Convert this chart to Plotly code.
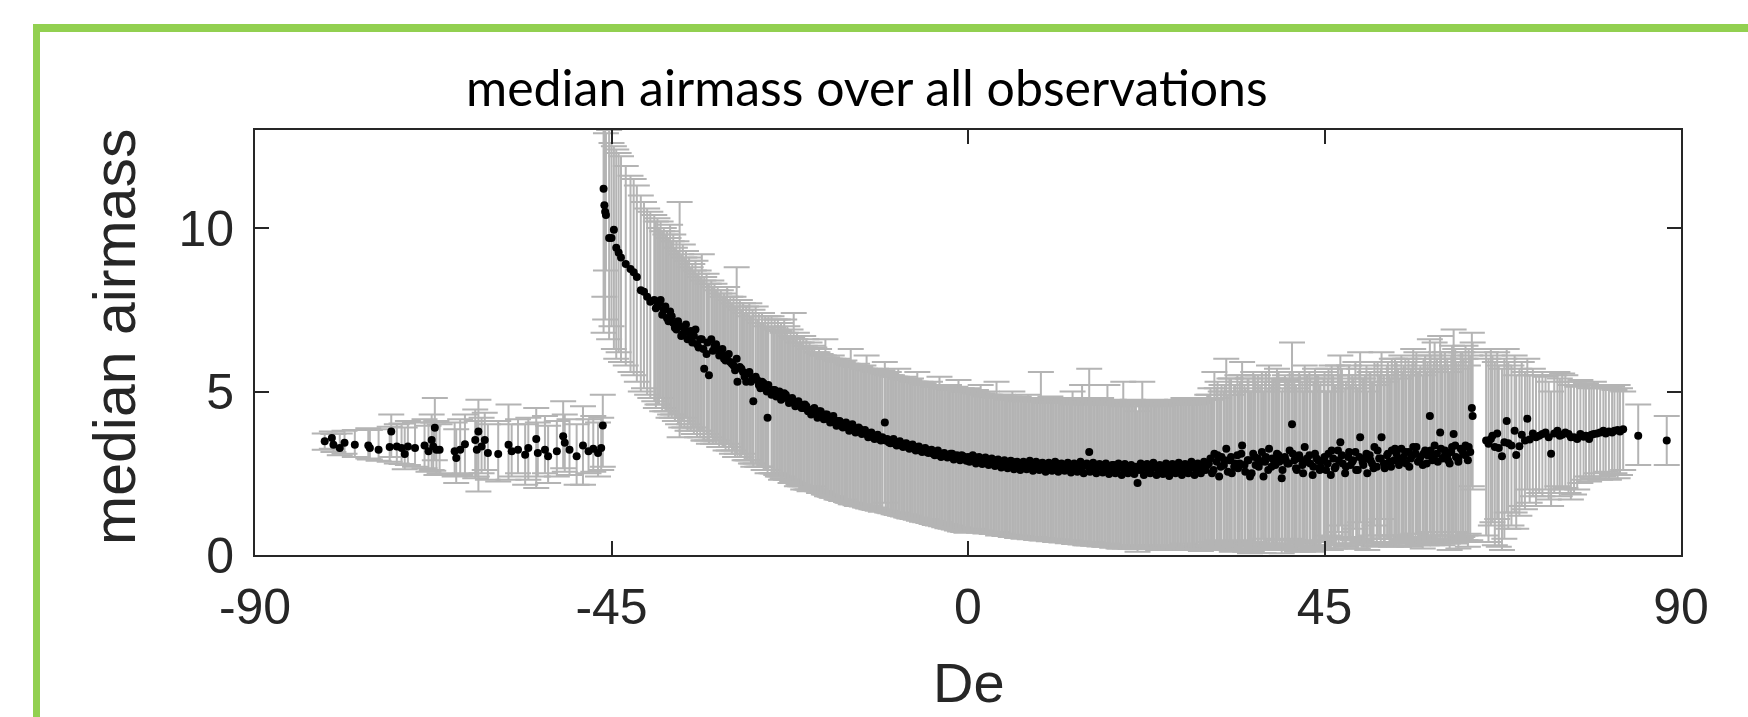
import plotly.graph_objects as go

# ---------------- data ----------------
# southern group (De < -45)
de_s = [-81.2,-80.3,-80.1,-79.3,-78.7,-77.4,-75.7,-75.5,-74.4,-73.0,
        -72.8,-72.1,-71.5,-71.1,-70.7,-69.8,-68.6,-68.1,-67.7,-67.5,
        -67.3,-67.1,-66.7,-64.8,-64.6,-64.1,-63.5,-62.2,-61.8,-62.0,
        -61.4,-61.0,-60.6,-59.3,-58.0,-57.6,-56.8,-55.9,-55.5,-54.5,
        -54.3,-53.4,-53.0,-51.9,-51.1,-50.9,-50.3,-49.4,-48.6,-47.9,
        -47.3,-46.7,-46.3,-46.1]
med_s = [3.48,3.58,3.37,3.27,3.43,3.37,3.35,3.27,3.22,3.30,
         3.78,3.32,3.27,3.09,3.32,3.27,3.35,3.17,3.52,3.32,
         3.89,3.22,3.22,3.17,2.97,3.22,3.39,3.52,3.78,3.22,
         3.32,3.52,3.12,3.09,3.37,3.17,3.22,3.07,3.27,3.55,
         3.12,3.22,3.02,3.17,3.63,3.43,3.22,3.02,3.35,3.17,
         3.25,3.12,3.27,3.96]
hi_s = [3.72,3.78,3.70,3.72,3.80,3.82,3.88,3.82,3.85,3.92,
        4.30,4.00,4.02,3.90,4.10,4.05,4.15,3.95,4.30,4.05,
        4.80,4.10,4.00,4.05,3.85,4.15,4.30,4.45,4.75,4.10,
        4.20,4.35,4.00,4.10,4.60,4.00,4.15,4.00,4.20,4.50,
        4.05,4.25,3.95,4.10,4.70,4.30,4.15,4.00,4.55,4.15,
        4.25,4.05,4.20,4.90]
lo_s = [3.22,3.25,3.15,3.05,3.10,3.00,2.95,2.92,2.88,2.85,
        3.00,2.80,2.78,2.62,2.75,2.70,2.65,2.55,2.60,2.58,
        2.90,2.45,2.50,2.40,2.20,2.45,2.50,2.35,1.94,2.40,
        2.50,2.60,2.30,2.25,2.30,2.40,2.50,2.15,2.30,2.05,
        2.40,2.50,2.20,2.40,2.65,2.55,2.45,2.15,2.15,2.50,
        2.55,2.40,2.60,2.70]

# steep rise near De = -45
de_a = [-46.0,-45.9,-45.8,-45.7,-45.3,-45.0,-44.7,-44.4,-44.1,-43.8,-43.2,-42.6,-42.2,-41.8,-41.3,-40.9,-40.5,-40.1]
med_a = [11.2,10.7,10.5,10.4,9.7,9.7,9.95,9.4,9.25,9.1,8.9,8.75,8.65,8.5,8.1,8.05,7.9,7.75]
hi_a = [13.5,13.4,13.2,12.9,13.0,12.6,12.5,12.4,12.3,12.2,11.9,11.6,11.5,11.3,11.0,10.8,10.6,10.5]
lo_a = [6.8,7.9,7.2,8.7,6.6,7.0,6.3,6.0,6.2,5.9,5.8,5.6,5.5,5.3,5.0,5.1,4.9,4.8]

de_b = [-39.6,-39.2,-38.8,-38.4,-38.0,-37.6,-37.2,-36.8,-36.4,-36.0,-35.6,-35.2,-34.8,
        -34.4,-34.0,-33.6,-33.3,-33.0,-32.7,-32.4,-32.0,-31.6,-31.2,-30.8,-30.4,-30.0]
med_b = [7.8,7.6,7.8,7.5,7.25,7.45,7.1,6.9,7.0,6.75,7.05,6.8,6.5,
         6.9,6.35,6.6,5.7,6.15,5.5,6.6,6.4,6.3,6.2,6.0,6.1,5.9]
hi_b = [10.4,10.3,10.2,10.0,9.9,10.1,9.8,9.6,10.8,9.5,9.3,9.1,8.9,
        9.0,8.7,9.2,8.5,8.6,8.3,8.4,8.3,8.2,8.1,8.0,8.2,7.9]
lo_b = [4.7,4.6,4.8,4.5,4.4,4.3,4.3,4.2,3.6,4.1,4.2,4.0,3.9,
        3.9,3.8,3.8,3.5,3.7,3.4,3.6,3.5,3.5,3.4,3.3,3.4,3.3]

de_c = [-29.6,-29.2,-29.1,-28.8,-28.4,-28.0,-27.6,-27.2,-27.1,-26.8,-26.4,-26.0,-25.6,-25.3,
        -25.2,-24.8,-24.4,-24.0,-23.6,-23.2,-22.8,-22.4,-22.0,-21.6,-21.2,-20.8,-20.4,-20.0]
med_c = [5.8,6.0,5.3,5.75,5.6,5.3,5.6,5.4,4.7,5.45,5.2,5.3,5.1,4.2,
         5.2,4.9,5.05,4.9,4.75,4.95,4.8,4.75,4.7,4.65,4.6,4.5,4.55,4.4]
hi_c = [7.9,8.8,7.6,7.8,7.7,7.6,7.7,7.5,7.4,7.6,7.4,7.4,7.3,7.1,
        7.3,7.3,7.2,7.2,7.1,7.2,7.0,6.9,7.4,6.8,6.7,6.7,6.6,6.5]
lo_c = [3.2,3.1,3.0,3.0,3.1,2.9,2.9,2.8,2.7,2.8,2.7,2.7,2.6,2.5,
        2.6,2.5,2.5,2.4,2.3,2.4,2.3,2.2,2.2,2.1,2.1,2.0,2.0,1.95]

# second pass of stars in the falling part (-40 .. -20)
de_c2 = [-39.4,-39.0,-38.6,-38.2,-37.8,-37.4,-37.0,-36.6,-36.2,-35.8,-35.4,-35.0,-34.6,-34.2,-33.8,
         -33.4,-32.9,-32.2,-31.8,-31.4,-31.0,-30.6,-30.2,-29.8,-29.4,-28.6,-28.2,-27.8,-27.4,-26.6,
         -26.2,-25.8,-25.4,-24.6,-24.2,-23.8,-23.4,-23.0,-22.6,-22.2,-21.8,-21.4,-21.0,-20.6,-20.2]
med_c2 = [7.55,7.7,7.35,7.6,7.15,7.3,6.95,7.15,6.7,6.9,6.6,6.85,6.7,6.45,6.6,
          6.3,6.5,6.25,6.45,6.1,6.3,5.95,6.15,5.85,5.65,5.7,5.45,5.55,5.3,5.35,
          5.1,5.25,5.0,5.05,4.85,5.0,4.8,4.9,4.65,4.8,4.55,4.7,4.5,4.6,4.4]
hi_c2 = [10.2,10.0,9.9,9.8,9.7,9.6,9.4,9.3,9.2,9.1,9.0,8.8,8.7,8.6,8.5,
         8.4,8.3,8.2,8.1,8.0,7.9,7.9,7.8,7.7,7.6,7.5,7.4,7.4,7.3,7.2,
         7.1,7.1,7.0,6.95,6.9,6.85,6.8,6.8,6.7,6.65,6.6,6.5,6.5,6.4,6.3]
lo_c2 = [4.5,4.6,4.4,4.4,4.2,4.2,4.1,4.0,3.9,3.9,3.8,3.8,3.7,3.6,3.6,
         3.5,3.5,3.4,3.4,3.3,3.3,3.2,3.2,3.1,3.0,3.0,2.9,2.9,2.8,2.7,
         2.7,2.6,2.6,2.5,2.45,2.4,2.35,2.3,2.3,2.25,2.2,2.15,2.1,2.1,2.0]

de_d = [-19.6,-19.2,-18.8,-18.4,-18.0,-17.6,-17.2,-16.8,-16.4,-16.0,-15.6,-15.2,-14.8,
        -14.4,-14.0,-13.6,-13.2,-12.8,-12.4,-12.0,-11.6,-11.2,-10.8,-10.5,-10.4,-10.0]
med_d = [4.45,4.35,4.4,4.25,4.3,4.15,4.2,4.05,4.1,3.95,4.0,3.9,3.95,
         3.85,3.8,3.85,3.75,3.7,3.7,3.6,3.65,3.55,3.6,4.05,3.5,3.45]
hi_d = [6.4,6.2,6.3,6.1,6.6,6.0,6.1,5.95,6.0,5.9,5.95,5.85,6.3,
        5.8,5.85,5.75,5.8,6.1,5.7,5.65,5.7,5.6,5.65,5.9,5.55,5.6]
lo_d = [2.1,2.0,1.9,1.95,1.85,1.8,1.75,1.8,1.7,1.65,1.7,1.6,1.55,
        1.6,1.5,1.55,1.5,1.45,1.5,1.4,1.45,1.4,1.35,1.6,1.35,1.3]

de_e = [-9.6,-9.2,-8.8,-8.4,-8.0,-7.6,-7.2,-6.8,-6.4,-6.0,-5.6,-5.2,
        -4.8,-4.4,-4.0,-3.6,-3.2,-2.8,-2.4,-2.0,-1.6,-1.2,-0.8,-0.4]
med_e = [3.5,3.4,3.45,3.35,3.4,3.3,3.35,3.25,3.3,3.2,3.25,3.15,
         3.2,3.1,3.15,3.05,3.1,3.05,3.0,3.1,3.0,2.95,3.05,2.95]
hi_e = [5.5,5.45,5.7,5.4,5.45,5.35,5.4,5.3,5.6,5.3,5.25,5.2,
        5.3,5.15,5.2,5.45,5.15,5.1,5.2,5.1,5.15,5.35,5.1,5.05]
lo_e = [1.3,1.25,1.3,1.2,1.25,1.15,1.2,1.1,1.15,1.1,1.05,1.1,
        1.0,1.05,0.95,1.0,0.9,0.95,0.85,0.9,0.8,0.85,0.8,0.75]

# second pass of stars (-20 .. 0)
de_e2 = [-19.8,-19.4,-19.0,-18.6,-18.2,-17.8,-17.4,-17.0,-16.6,-16.2,-15.8,-15.4,-15.0,-14.6,-14.2,
         -13.8,-13.4,-13.0,-12.6,-12.2,-11.8,-11.4,-11.0,-10.2,-9.8,-9.4,-9.0,-8.6,-8.2,-7.8,
         -7.4,-7.0,-6.6,-6.2,-5.8,-5.4,-5.0,-4.6,-4.2,-3.8,-3.4,-3.0,-2.6,-2.2,-1.8,-1.4,-1.0,-0.6,-0.2]
med_e2 = [4.3,4.5,4.2,4.4,4.15,4.3,4.05,4.25,3.95,4.1,3.9,4.05,3.8,4.0,3.75,
          3.9,3.7,3.82,3.6,3.75,3.55,3.68,3.5,3.55,3.42,3.55,3.35,3.48,3.3,3.42,
          3.25,3.38,3.2,3.32,3.15,3.27,3.12,3.22,3.05,3.2,3.0,3.12,2.98,3.1,2.92,3.05,2.9,3.02,2.88]
hi_e2 = [6.3,6.35,6.2,6.15,6.1,6.05,6.0,6.0,5.95,5.9,5.9,5.85,5.8,5.8,5.75,
         5.75,5.7,5.7,5.65,5.65,5.6,5.6,5.55,5.5,5.5,5.45,5.45,5.4,5.4,5.35,
         5.35,5.3,5.3,5.25,5.25,5.2,5.2,5.2,5.15,5.15,5.1,5.1,5.1,5.05,5.05,5.05,5.0,5.0,5.0]
lo_e2 = [2.05,2.0,1.95,1.9,1.85,1.8,1.78,1.75,1.7,1.68,1.65,1.62,1.6,1.55,1.52,
         1.5,1.48,1.45,1.42,1.4,1.38,1.35,1.32,1.3,1.28,1.25,1.22,1.2,1.18,1.15,
         1.12,1.1,1.08,1.05,1.02,1.0,0.98,0.95,0.92,0.9,0.88,0.85,0.82,0.8,0.78,0.75,0.72,0.7,0.68]

de_f = [0.0,0.4,0.8,1.2,1.6,2.0,2.4,2.8,3.2,3.6,4.0,4.4,4.8,5.2,5.6,6.0,6.4,6.8,7.2,7.6,
        8.0,8.4,8.8,9.2,9.6,10.0,10.4,10.8,11.2,11.6,12.0,12.4,12.8,13.2,13.6,14.0,14.4,14.8]
med_f = [3.0,2.95,3.0,2.9,2.95,2.85,2.9,2.85,2.8,2.9,2.8,2.85,2.75,2.8,2.85,2.75,2.8,2.7,2.8,2.75,
         2.7,2.75,2.7,2.8,2.7,2.65,2.75,2.7,2.8,2.65,2.7,2.75,2.65,2.7,2.75,2.65,2.7,2.75]
hi_f = [5.1,5.0,5.05,4.95,5.2,4.9,5.0,4.9,4.85,5.3,4.85,4.9,4.8,4.85,5.0,4.8,4.85,4.75,4.8,4.9,
        4.75,4.8,4.75,5.6,4.8,4.75,4.85,4.7,4.8,4.75,4.7,4.8,4.75,5.0,4.8,4.7,5.2,4.75]
lo_f = [0.8,0.75,0.8,0.7,0.75,0.7,0.72,0.68,0.65,0.7,0.62,0.65,0.6,0.62,0.58,0.6,0.55,0.58,0.52,0.55,
        0.5,0.55,0.5,0.45,0.52,0.48,0.5,0.45,0.48,0.42,0.45,0.4,0.45,0.38,0.42,0.35,0.4,0.3]

de_g = [15.2,15.3,15.6,16.0,16.4,16.8,17.2,17.6,18.0,18.4,18.8,19.2,19.6,20.0,20.4,20.8,21.2,21.4,21.6,22.0,
        22.4,22.8,23.2,23.6,24.0,24.4,24.8,25.2,25.6,26.0,26.4,26.8,27.2,27.6,28.0,28.4,28.8,29.2,29.6]
med_g = [2.7,3.15,2.75,2.65,2.7,2.75,2.6,2.7,2.65,2.75,2.6,2.7,2.65,2.7,2.6,2.65,2.7,2.2,2.6,2.65,
         2.7,2.6,2.65,2.7,2.6,2.65,2.55,2.7,2.6,2.65,2.7,2.6,2.75,2.6,2.65,2.7,2.6,2.65,2.7]
hi_g = [4.7,5.7,4.8,4.7,4.75,4.8,4.65,5.2,4.7,4.75,4.65,4.7,5.3,4.7,4.65,4.75,4.7,4.4,4.65,5.3,
        4.7,4.65,4.7,4.75,4.6,4.65,4.6,4.7,4.65,4.6,4.75,4.65,4.8,4.6,4.7,4.75,4.65,4.7,4.8]
lo_g = [0.35,0.3,0.4,0.3,0.35,0.3,0.25,0.35,0.3,0.25,0.3,0.2,0.25,0.3,0.2,0.25,0.3,0.1,0.25,0.2,
        0.3,0.25,0.2,0.3,0.15,0.25,0.2,0.3,0.25,0.2,0.3,0.25,0.35,0.2,0.3,0.25,0.2,0.3,0.25]

# second pass of stars (0 .. 30)
de_g2 = [0.2,0.6,1.0,1.4,1.8,2.2,2.6,3.0,3.4,3.8,4.2,4.6,5.0,5.4,5.8,6.2,6.6,7.0,7.4,7.8,
         8.2,8.6,9.0,9.4,9.8,10.2,10.6,11.0,11.4,11.8,12.2,12.6,13.0,13.4,13.8,14.2,14.6,15.0,15.4,15.8,
         16.2,16.6,17.0,17.4,17.8,18.2,18.6,19.0,19.4,19.8,20.2,20.6,21.0,21.8,22.2,22.6,23.0,23.4,23.8,24.2,
         24.6,25.0,25.4,25.8,26.2,26.6,27.0,27.4,27.8,28.2,28.6,29.0,29.4,29.8]
med_g2 = [2.85,3.05,2.8,3.0,2.78,2.98,2.75,2.95,2.72,2.92,2.68,2.9,2.65,2.88,2.62,2.85,2.6,2.85,2.62,2.88,
          2.58,2.85,2.6,2.82,2.55,2.82,2.58,2.85,2.55,2.8,2.58,2.82,2.52,2.8,2.55,2.85,2.5,2.8,2.55,2.82,
          2.5,2.78,2.52,2.8,2.48,2.75,2.5,2.8,2.45,2.78,2.5,2.75,2.48,2.8,2.45,2.78,2.5,2.82,2.45,2.75,
          2.48,2.8,2.42,2.78,2.5,2.82,2.45,2.78,2.5,2.85,2.45,2.8,2.5,2.85]
hi_g2 = [5.0,4.95,5.05,4.9,4.95,4.85,4.9,4.85,4.8,4.9,4.8,4.85,4.75,4.8,4.75,4.8,4.7,4.75,4.7,4.8,
         4.7,4.75,4.7,4.75,4.65,4.7,4.65,4.75,4.65,4.7,4.65,4.7,4.6,4.7,4.65,4.7,4.6,4.75,4.65,4.7,
         4.6,4.65,4.6,4.7,4.6,4.65,4.6,4.7,4.55,4.65,4.6,4.65,4.55,4.7,4.6,4.65,4.55,4.7,4.6,4.65,
         4.55,4.7,4.6,4.65,4.6,4.7,4.6,4.65,4.6,4.75,4.6,4.7,4.65,4.75]
lo_g2 = [0.78,0.72,0.78,0.68,0.72,0.66,0.7,0.64,0.66,0.6,0.62,0.58,0.6,0.55,0.58,0.52,0.55,0.5,0.52,0.48,
         0.5,0.46,0.48,0.44,0.46,0.42,0.45,0.4,0.42,0.38,0.4,0.36,0.38,0.34,0.36,0.32,0.34,0.3,0.32,0.28,
         0.3,0.26,0.28,0.25,0.28,0.22,0.26,0.2,0.25,0.2,0.22,0.18,0.22,0.2,0.25,0.18,0.22,0.2,0.18,0.22,
         0.2,0.18,0.22,0.15,0.2,0.18,0.22,0.15,0.2,0.18,0.15,0.2,0.12,0.18]

de_h = [30.0,30.4,30.8,31.1,31.4,31.7,32.0,32.3,32.6,33.0,33.3,33.6,34.0,34.3,34.6,35.0,35.3,35.6,36.0,36.3,
        36.6,37.0,37.3,37.6,38.0,38.3,38.6,39.0,39.3,39.6,40.0,40.3,40.6,40.9,41.2,41.5,41.8,42.2,42.5,42.8,
        43.2,43.5,43.8,44.2,44.5]
med_h = [2.6,2.8,2.5,3.1,2.85,2.4,3.0,2.75,3.25,2.9,2.5,2.7,3.05,2.8,3.35,2.55,2.9,2.4,3.1,2.75,
         2.95,2.85,2.4,3.0,3.25,2.7,2.9,3.1,2.85,2.35,3.0,2.8,3.2,4.0,2.9,2.6,3.05,2.75,3.3,2.95,
         2.8,2.45,3.1,2.9,2.7]
hi_h = [4.8,4.9,4.75,5.6,5.1,4.8,5.2,5.0,6.0,5.4,4.9,5.2,5.5,5.3,5.9,5.1,5.4,5.0,5.6,5.3,
        5.5,5.2,5.0,5.6,5.8,5.2,5.4,5.7,5.3,5.0,5.5,5.35,5.6,6.5,5.4,5.1,5.6,5.3,5.8,5.5,
        5.4,5.0,5.7,5.5,5.3]
lo_h = [0.25,0.3,0.2,0.35,0.25,0.15,0.3,0.2,0.4,0.25,0.1,0.2,0.3,0.15,0.4,0.1,0.2,0.05,0.3,0.15,
        0.25,0.2,0.06,0.25,0.35,0.15,0.2,0.3,0.2,0.05,0.25,0.15,0.3,0.5,0.2,0.1,0.25,0.15,0.35,0.2,
        0.2,0.1,0.3,0.25,0.15]

# second pass of stars (30 .. 63)
de_h2 = [30.2,30.6,31.0,31.5,31.9,32.4,32.8,33.2,33.7,34.1,34.5,34.9,35.4,35.8,36.2,36.7,37.1,37.5,37.9,38.4,
         38.8,39.2,39.7,40.1,40.5,41.0,41.4,41.9,42.3,42.7,43.1,43.6,44.0,44.4,45.0,45.4,45.9,46.3,46.8,47.2,
         47.7,48.1,48.5,49.0,49.4,49.9,50.3,50.8,51.2,51.7,52.1,52.5,53.0,53.4,53.9,54.3,54.8,55.2,55.7,56.1,
         56.6,57.0,57.5,57.9,58.4,58.8,59.3,59.7,60.2,60.6,61.0,61.5,61.9,62.4,62.8,63.2]
med_h2 = [2.75,2.95,2.6,3.05,2.7,2.9,2.55,3.0,2.8,2.65,3.1,2.75,2.9,2.5,3.0,2.7,3.15,2.85,2.6,2.95,
          2.75,3.05,2.6,2.9,2.8,3.1,2.65,2.95,2.5,2.85,3.05,2.7,2.95,2.6,3.0,2.8,3.2,2.65,2.9,3.05,
          2.7,3.15,2.85,2.6,3.0,2.75,3.1,2.9,2.65,3.2,2.95,2.8,3.1,2.7,3.25,2.95,2.85,3.15,2.7,3.05,
          3.3,2.9,3.1,2.8,3.2,3.0,2.85,3.25,3.05,2.9,3.15,3.35,2.95,3.2,3.05,3.3]
hi_h2 = [4.9,5.1,4.8,5.3,5.0,5.2,4.9,5.4,5.2,5.0,5.5,5.2,5.4,5.0,5.5,5.2,5.6,5.3,5.1,5.4,
         5.3,5.6,5.1,5.4,5.3,5.6,5.2,5.5,5.0,5.4,5.6,5.3,5.5,5.2,5.6,5.4,5.8,5.2,5.5,5.7,
         5.3,5.8,5.5,5.2,5.7,5.4,5.8,5.6,5.3,5.9,5.7,5.5,5.9,5.4,6.0,5.7,5.6,6.0,5.5,5.9,
         6.2,5.7,6.0,5.6,6.1,5.9,5.7,6.2,6.0,5.8,6.1,6.3,5.9,6.2,6.0,6.3]
lo_h2 = [0.3,0.4,0.2,0.45,0.25,0.35,0.15,0.4,0.3,0.2,0.45,0.25,0.35,0.1,0.4,0.2,0.5,0.3,0.15,0.35,
         0.25,0.45,0.15,0.35,0.3,0.45,0.2,0.4,0.1,0.3,0.45,0.25,0.4,0.2,0.45,0.3,0.55,0.2,0.35,0.5,
         0.25,0.55,0.35,0.2,0.45,0.3,0.5,0.4,0.25,0.6,0.4,0.3,0.5,0.25,0.6,0.4,0.35,0.55,0.25,0.45,
         0.65,0.35,0.5,0.3,0.6,0.45,0.35,0.6,0.45,0.35,0.5,0.7,0.4,0.55,0.45,0.65]

de_i = [44.9,45.2,45.5,45.8,46.1,46.4,46.7,47.0,47.3,47.6,48.0,48.3,48.6,48.9,49.2,49.5,49.8,
        50.1,50.4,50.7,51.0,51.3,51.6,51.9,52.2]
med_i = [2.9,2.6,3.1,2.45,2.95,2.7,3.2,3.45,2.8,2.5,3.0,2.75,2.9,3.15,2.6,3.6,2.85,
         2.95,2.5,3.05,2.8,3.3,2.7,2.95,3.6]
hi_i = [5.4,5.0,5.7,5.0,5.5,5.2,5.8,6.1,5.3,5.1,5.5,5.2,5.4,5.9,5.1,6.2,5.4,
        5.5,5.0,5.6,5.3,5.9,5.2,5.5,6.2]
lo_i = [0.4,0.2,0.6,0.15,0.5,0.3,0.7,0.9,0.35,0.2,0.5,0.3,0.45,0.8,0.2,1.0,0.4,
        0.5,0.15,0.6,0.35,0.9,0.3,0.5,1.1]

de_j = [52.6,52.9,53.2,53.5,53.8,54.1,54.4,54.7,55.0,55.3,55.6,55.9,56.2,56.5,56.8,57.1,57.4,57.7,58.0,58.3,
        58.6,58.9,59.2,59.6,59.9,60.2,60.5,60.8,61.1,61.3,61.6,61.9,62.2,62.5,62.8,63.1,63.4,63.6,63.7]
med_j = [2.65,3.05,2.85,3.2,2.9,3.1,2.75,3.25,3.0,2.8,3.15,2.95,3.3,3.1,2.85,3.0,2.75,3.2,3.05,4.25,
         2.9,3.35,3.1,3.75,2.95,3.2,3.05,2.8,3.3,3.7,3.0,2.85,3.25,3.1,3.35,2.9,3.15,4.5,4.25]
hi_j = [5.3,5.8,5.5,6.0,5.6,5.9,5.4,6.1,5.8,5.5,6.0,5.7,6.3,5.9,5.6,5.8,5.5,6.1,5.9,6.6,
        5.7,6.5,6.0,6.7,5.8,6.2,6.0,5.6,6.4,6.9,5.9,5.7,6.2,6.0,6.4,5.8,6.1,6.8,6.5]
lo_j = [0.3,0.5,0.35,0.6,0.4,0.5,0.25,0.6,0.45,0.3,0.55,0.35,0.65,0.5,0.3,0.4,0.2,0.55,0.4,0.7,
        0.3,0.6,0.45,0.5,0.3,0.5,0.4,0.15,0.6,0.5,0.35,0.2,0.5,0.4,0.6,0.25,0.45,2.1,2.0]

de_k = [65.4,65.7,66.0,66.2,66.5,66.8,67.0,67.4,67.7,68.0,68.2,68.6,69.0,69.2,69.6,69.9,70.3,70.6,70.9,71.3,71.7]
med_k = [3.5,3.4,3.55,3.65,3.3,3.72,3.27,3.02,3.45,4.1,3.42,3.35,3.8,3.06,3.33,3.68,3.5,4.17,3.53,3.72,3.6]
hi_k = [6.2,6.0,6.3,6.1,5.9,6.2,5.8,5.7,6.0,6.3,5.9,5.8,6.1,5.5,5.7,5.9,5.6,6.0,5.5,5.7,5.5]
lo_k = [0.6,0.4,0.9,1.0,0.3,1.1,0.25,0.15,0.5,1.3,0.8,0.9,1.3,0.8,1.2,1.5,1.4,2.0,1.6,1.8,1.5]

de_l = [72.1,72.5,72.9,73.3,73.6,74.0,74.4,74.7,75.0,75.4,75.8,76.1,76.5,76.9,77.3,77.7,78.0,78.4,78.7,79.0,
        79.4,79.8,80.2,80.5,80.9,81.3,81.6,82.0,82.3,82.7,84.6,88.2]
med_l = [3.65,3.7,3.75,3.6,3.1,3.72,3.8,3.65,3.68,3.75,3.7,3.6,3.6,3.55,3.7,3.62,3.65,3.55,3.68,3.7,
         3.72,3.75,3.8,3.72,3.78,3.75,3.8,3.82,3.78,3.85,3.65,3.5]
hi_l = [5.5,5.6,5.45,5.3,5.0,5.5,5.6,5.4,5.55,5.5,5.3,5.2,5.3,5.15,5.35,5.2,5.25,5.1,5.2,5.3,
        5.1,5.2,5.15,5.2,5.1,5.15,5.05,5.2,5.1,5.0,4.6,4.25]
lo_l = [1.9,1.8,2.0,1.7,1.5,1.9,2.1,1.8,2.0,2.05,1.9,1.7,1.85,2.0,2.2,2.3,2.4,2.25,2.4,2.35,
        2.5,2.3,2.4,2.55,2.3,2.45,2.5,2.35,2.45,2.6,2.75,2.75]

x_ticks = [-90, -45, 0, 45, 90]
x_tick_text = ["-90", "-45", "0", "45", "90"]
y_ticks = [0, 5, 10]

# ---------------- assemble ----------------
groups = [(de_s, med_s, lo_s, hi_s), (de_a, med_a, lo_a, hi_a), (de_b, med_b, lo_b, hi_b),
          (de_c, med_c, lo_c, hi_c), (de_c2, med_c2, lo_c2, hi_c2), (de_d, med_d, lo_d, hi_d),
          (de_e, med_e, lo_e, hi_e), (de_e2, med_e2, lo_e2, hi_e2), (de_f, med_f, lo_f, hi_f),
          (de_g, med_g, lo_g, hi_g), (de_g2, med_g2, lo_g2, hi_g2), (de_h, med_h, lo_h, hi_h),
          (de_h2, med_h2, lo_h2, hi_h2), (de_i, med_i, lo_i, hi_i), (de_j, med_j, lo_j, hi_j),
          (de_k, med_k, lo_k, hi_k), (de_l, med_l, lo_l, hi_l)]
X, Y, EP, EM = [], [], [], []
for d, m, lo, hi in groups:
    for a, b, c, e in zip(d, m, lo, hi):
        X.append(a); Y.append(b); EP.append(e - b); EM.append(b - c)

W, H = 1748, 717
L, R, T, B = 255, 1681, 130, 555
GRAY = "#b4b4b4"
AX = "#262626"

fig = go.Figure()
fig.add_trace(go.Scatter(
    x=X, y=Y, mode="markers",
    marker=dict(size=2, color=GRAY),
    error_y=dict(type="data", symmetric=False, array=EP, arrayminus=EM,
                 color=GRAY, thickness=2, width=13),
    showlegend=False, hoverinfo="skip"))
fig.add_trace(go.Scatter(
    x=X, y=Y, mode="markers",
    marker=dict(size=8, color="black"),
    showlegend=False))

def px(x):
    return (x - L) / (R - L)

def py(y):
    return (B - y) / (B - T)

axis_font = dict(family="Liberation Sans, Arial, sans-serif", size=50, color=AX)
fig.update_layout(
    width=W, height=H,
    margin=dict(l=L, r=W - R, t=T, b=H - B, autoexpand=False),
    paper_bgcolor="white", plot_bgcolor="white",
    xaxis=dict(range=[-90, 90], tickvals=x_ticks, ticktext=x_tick_text, ticks="inside", ticklen=14,
               tickwidth=1.5, tickcolor=AX, showline=True, linecolor=AX, linewidth=2,
               mirror="ticks", showgrid=False, zeroline=False, tickfont=axis_font,
               ticklabelstandoff=7),
    yaxis=dict(range=[0, 13], tickvals=y_ticks, ticks="inside", ticklen=14,
               tickwidth=1.5, tickcolor=AX, showline=True, linecolor=AX, linewidth=2,
               mirror="ticks", showgrid=False, zeroline=False, tickfont=axis_font,
               ticklabelstandoff=9),
    annotations=[
        dict(text="median airmass over all observations", xref="paper", yref="paper",
             x=px(867), y=py(87), xanchor="center", yanchor="middle", showarrow=False,
             font=dict(family="Lato, Carlito, sans-serif", size=50, color="black")),
        dict(text="median airmass", xref="paper", yref="paper", textangle=-90,
             x=px(115), y=py(337), xanchor="center", yanchor="middle", showarrow=False,
             font=dict(family="Liberation Sans, Arial, sans-serif", size=59, color=AX)),
        dict(text="De", xref="paper", yref="paper",
             x=px(969), y=py(716), xanchor="center", yanchor="bottom", showarrow=False,
             font=dict(family="Liberation Sans, Arial, sans-serif", size=56, color=AX)),
    ],
    shapes=[
        dict(type="line", xref="paper", yref="paper", x0=px(33), x1=px(1800), y0=py(28), y1=py(28),
             line=dict(color="#92D050", width=8), layer="above"),
        dict(type="line", xref="paper", yref="paper", x0=px(36.5), x1=px(36.5), y0=py(24), y1=py(760),
             line=dict(color="#92D050", width=7), layer="above"),
    ],
)

fig.write_html("out.html")
